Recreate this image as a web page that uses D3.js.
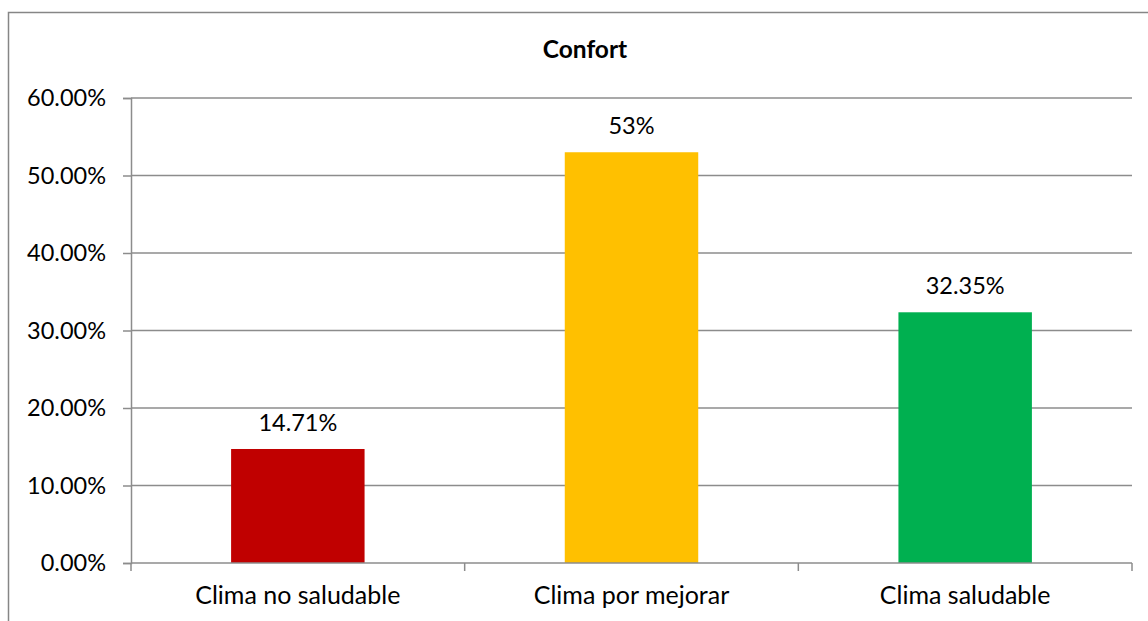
<!DOCTYPE html>
<html><head><meta charset="utf-8">
<script src="https://cdn.jsdelivr.net/npm/d3@7"></script>
<style>body{margin:0;background:#fff}svg{display:block}text{font-family:Lato,"Open Sans",sans-serif}</style>
</head><body><svg id="c" width="1148" height="621"></svg>
<script>
const categories = ["Clima no saludable", "Clima por mejorar", "Clima saludable"];
const values = [0.1471, 0.53, 0.3235];
const labels = ["14.71%", "53%", "32.35%"];
const colors = ["#C00000", "#FFC000", "#00B050"];
const yTicks = [0, 0.1, 0.2, 0.3, 0.4, 0.5, 0.6];
const title = "Confort";

const svg = d3.select("#c");
const m = {left: 131, right: 1132, top: 98, bottom: 563};

// chart border
svg.append("rect").attr("x", 8.5).attr("y", 12.5).attr("width", 1160).attr("height", 640)
  .attr("fill", "none").attr("stroke", "#868686").attr("stroke-width", 1.5);

svg.append("text").attr("x", 585).attr("y", 58).attr("text-anchor", "middle")
  .attr("font-weight", "bold").attr("font-size", 24.5).text(title);

const x = d3.scaleBand().domain(categories).range([m.left, m.right]).paddingInner(0.6).paddingOuter(0.3);
const y = d3.scaleLinear().domain([0, 0.6]).range([m.bottom, m.top]);

// gridlines
svg.append("g").selectAll("line").data(yTicks.slice(1)).join("line")
  .attr("x1", m.left).attr("x2", m.right).attr("y1", d => y(d)).attr("y2", d => y(d))
  .attr("stroke", "#8c8c8c").attr("stroke-width", 1.5);

// y axis
const ya = svg.append("g").attr("transform", `translate(${m.left},0)`)
  .call(d3.axisLeft(y).tickValues(yTicks).tickFormat(d3.format(".2%")).tickSize(8).tickPadding(17));
ya.select(".domain").attr("stroke", "#8c8c8c").attr("stroke-width", 1.5);
ya.selectAll(".tick line").attr("stroke", "#8c8c8c").attr("stroke-width", 1.5);
ya.selectAll("text").attr("font-size", 23.5).attr("fill", "#000").style("font-family", "Lato");

// bars
svg.append("g").selectAll("rect").data(values).join("rect")
  .attr("x", (d, i) => x(categories[i])).attr("width", x.bandwidth())
  .attr("y", d => y(d)).attr("height", d => y(0) - y(d))
  .attr("fill", (d, i) => colors[i]);

// data labels
svg.append("g").selectAll("text").data(values).join("text")
  .attr("x", (d, i) => x(categories[i]) + x.bandwidth() / 2)
  .attr("y", d => y(d) - 18).attr("text-anchor", "middle").attr("font-size", 23.5)
  .text((d, i) => labels[i]);

// x axis
const xb = d3.scaleLinear().domain([0, categories.length]).range([m.left, m.right]);
const xa = svg.append("g");
xa.append("line").attr("x1", m.left).attr("x2", m.right).attr("y1", y(0)).attr("y2", y(0))
  .attr("stroke", "#8c8c8c").attr("stroke-width", 1.5);
xa.selectAll("line.t").data(d3.range(categories.length + 1)).join("line").attr("class", "t")
  .attr("x1", d => xb(d)).attr("x2", d => xb(d)).attr("y1", y(0)).attr("y2", y(0) + 8)
  .attr("stroke", "#8c8c8c").attr("stroke-width", 1.5);
xa.selectAll("text").data(categories).join("text")
  .attr("x", d => x(d) + x.bandwidth() / 2).attr("y", 604).attr("text-anchor", "middle")
  .attr("font-size", 25).text(d => d);
</script></body></html>
